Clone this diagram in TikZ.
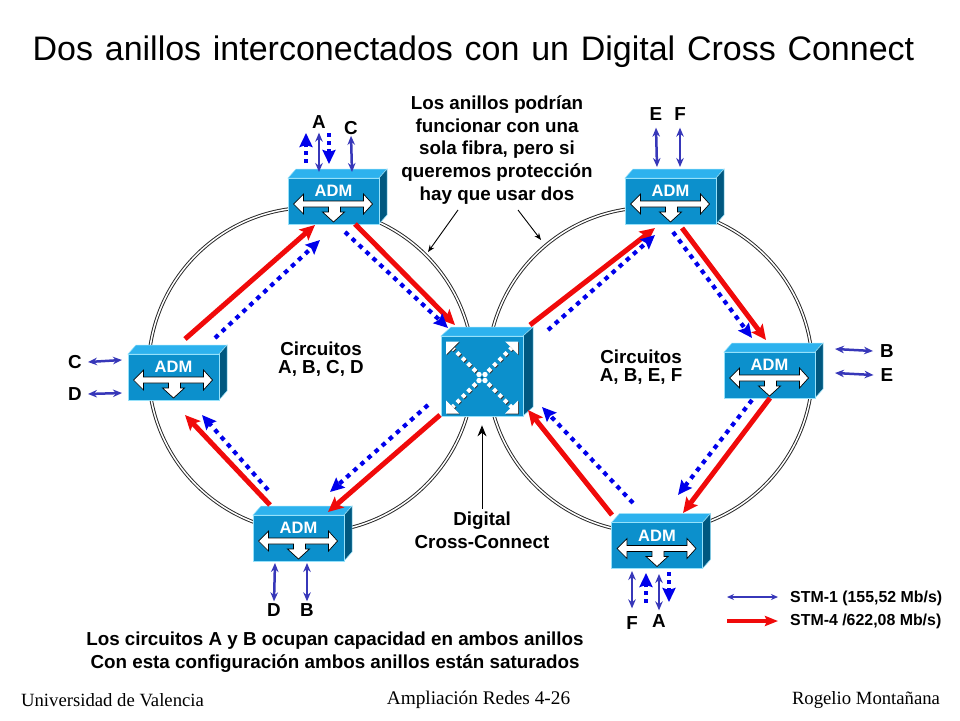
\documentclass[tikz,border=0pt]{standalone}
\usepackage{fontspec}
\setmainfont{Liberation Sans}
\newfontfamily\footfont{Liberation Serif}
\usetikzlibrary{arrows.meta,calc}
\definecolor{boxfront}{RGB}{12,144,204}
\definecolor{boxtop}{RGB}{45,178,238}
\definecolor{boxside}{RGB}{0,88,128}
\definecolor{boxedge}{RGB}{150,225,250}
\definecolor{thinblue}{RGB}{55,55,185}
\definecolor{dotblue}{RGB}{0,0,235}
\definecolor{redline}{RGB}{240,10,10}
\newcommand{\tgap}{\ \hspace{2.3pt}}
\tikzset{
  x=1pt,y=-1pt,
  front/.style={draw=boxedge,line width=.7pt,fill=boxfront,inner sep=0pt,minimum width=#1},
  front/.default=91pt,
  toplabel/.style={font=\bfseries\fontsize{18.8}{22.6}\selectfont,text=black,align=center,inner sep=0pt},
  smalllabel/.style={font=\bfseries\fontsize{15.9}{19}\selectfont,text=black,align=left,inner sep=0pt,anchor=west},
  foot/.style={font=\footfont\fontsize{18.7}{22}\selectfont,text=black,inner sep=0pt},
  redarrow/.style={draw=redline,line width=5pt,-{Stealth[length=15pt,width=14pt,inset=3pt]}},
  bluearrow/.style={draw=dotblue,line width=4.2pt,dash pattern=on 4.5pt off 5pt,-{Stealth[length=14pt,width=13pt,inset=2pt,sep=0pt]}},
  thinarrow/.style={draw=thinblue,line width=2.5pt,{Stealth[length=9pt,width=7.5pt]}-{Stealth[length=9pt,width=7.5pt]}},
  ring/.style={draw=black!85,line width=.95pt,double=white,double distance=1.5pt},
  note/.style={draw=black,line width=.9pt,-{Stealth[length=7pt,width=5.5pt]}},
  wht/.style={fill=white,draw=black,line width=.7pt,line join=miter},
}
% name, centre x, centre y of the front face
\newcommand{\admbox}[3]{%
  \fill[boxtop,draw=boxedge,line width=.5pt] (#2-45.5,#3-23)--(#2-37.5,#3-32)--(#2+53.5,#3-32)--(#2+45.5,#3-23)--cycle;
  \fill[boxside,draw=boxedge,line width=.5pt] (#2+45.5,#3-23)--(#2+53.5,#3-32)--(#2+53.5,#3+14)--(#2+45.5,#3+23)--cycle;
  \node[front,minimum height=46pt] (#1) at (#2,#3) {};
  \node[font=\bfseries\fontsize{16.5}{18}\selectfont,text=white,inner sep=0pt] (#1l) at (#2,#3-10) {ADM};
  \begin{scope}[shift={(#2,#3+3)}]
    \draw[wht] (-40,0)--(-30,-10)--(-30,-3)--(30,-3)--(30,-10)--(39,0)--(30,10)--(30,3)--(7,3)--(7,8)--(11,8)--(0,18)--(-11,8)--(-5,8)--(-5,3)--(-30,3)--(-30,10)--cycle;
  \end{scope}
}
\newcommand{\hop}[2]{% sign x, sign y
  \foreach \k in {0,1,2,3,4}{
    \fill[black!80] ($(482,377.5)+(#1*7.5+#1*\k*5.4+.8,#2*7.5+#2*\k*5.4+.8)$) +(0,-2.8)--+(2.8,0)--+(0,2.8)--+(-2.8,0)--cycle;
    \fill[white] ($(482,377.5)+(#1*7.5+#1*\k*5.4,#2*7.5+#2*\k*5.4)$) +(0,-2.8)--+(2.8,0)--+(0,2.8)--+(-2.8,0)--cycle;
  }
  \fill[black!80] (482+#1*36+.8,377.5+#2*36+.8)--(482+#1*23+.8,377.5+#2*36+.8)--(482+#1*36+.8,377.5+#2*23+.8)--cycle;
  \fill[white] (482+#1*36,377.5+#2*36)--(482+#1*23,377.5+#2*36)--(482+#1*36,377.5+#2*23)--cycle;
  \fill[white] (482+#1*3,377.5+#2*3) circle[radius=2.7];
}
\begin{document}
\begin{tikzpicture}
\useasboundingbox (0,0) rectangle (960,720);
\fill[white] (0,0) rectangle (960,720);

\node[font=\fontsize{34}{40}\selectfont,inner sep=0pt,text=black] (title) at (473.5,52) {Dos\tgap anillos\tgap interconectados\tgap con\tgap un\tgap Digital\tgap Cross\tgap Connect};

\draw[ring] (311,370) circle[radius=162.5];
\draw[ring] (650,370) circle[radius=162.5];

\admbox{admA}{333.5}{201}
\admbox{admB}{670.5}{201}
\admbox{admC}{173.5}{377}
\admbox{admD}{298.5}{538}
\admbox{admE}{769.5}{375}
\admbox{admF}{657}{545.5}

% Digital cross connect
\fill[boxtop,draw=boxedge,line width=.5pt] (441,336)--(451,327)--(533,327)--(523,336)--cycle;
\fill[boxside,draw=boxedge,line width=.5pt] (523,336)--(533,327)--(533,407)--(523,416)--cycle;
\node[front=82pt,minimum height=80pt] (dxc) at (482,376) {};
\hop{-1}{-1}\hop{1}{-1}\hop{-1}{1}\hop{1}{1}
\fill[boxside] (482,377.5) circle[radius=1.2];

% Red STM-4 connectors
\draw[redarrow] ([shift={(11.5,-38)}]admC.center) -- ([shift={(-18.5,24)}]admA.center);
\draw[redarrow] ([shift={(21.5,23)}]admA.center) -- ([shift={(-27,-51)}]dxc.center);
\draw[redarrow] ([shift={(-42,39)}]dxc.center) -- ([shift={(29.5,-26)}]admD.center);
\draw[redarrow] ([shift={(-28.5,-33)}]admD.center) -- ([shift={(11.5,38)}]admC.center);
\draw[redarrow] ([shift={(48,-51)}]dxc.center) -- ([shift={(-15.5,27)}]admB.center);
\draw[redarrow] ([shift={(11.5,27)}]admB.center) -- ([shift={(-3.5,-35)}]admE.center);
\draw[redarrow] ([shift={(0.5,23)}]admE.center) -- ([shift={(26,-32.5)}]admF.center);
\draw[redarrow] ([shift={(-45,-30.5)}]admF.center) -- ([shift={(46,34)}]dxc.center);

% Blue dotted paths
\draw[bluearrow] ([shift={(41.5,-39)}]admC.center) -- ([shift={(-13.5,39)}]admA.center);
\draw[bluearrow] ([shift={(11.5,31)}]admA.center) -- ([shift={(-34,-48)}]dxc.center);
\draw[bluearrow] ([shift={(-54,29)}]dxc.center) -- ([shift={(31.5,-46)}]admD.center);
\draw[bluearrow] ([shift={(-30.5,-48)}]admD.center) -- ([shift={(28.5,38)}]admC.center);
\draw[bluearrow] ([shift={(66,-46)}]dxc.center) -- ([shift={(-15.5,34)}]admB.center);
\draw[bluearrow] ([shift={(2.5,31)}]admB.center) -- ([shift={(-17.5,-37)}]admE.center);
\draw[bluearrow] ([shift={(-17.5,25)}]admE.center) -- ([shift={(21,-50.5)}]admF.center);
\draw[bluearrow] ([shift={(-24,-42.5)}]admF.center) -- ([shift={(60,31)}]dxc.center);

% Tributary labels
\node[toplabel] (lA1) at (319,122) {A};
\node[toplabel] (lC1) at (351,128) {C};
\node[toplabel] (lE1) at (656,114) {E};
\node[toplabel] (lF1) at (680,114) {F};
\node[toplabel] (lC2) at (75,362) {C};
\node[toplabel] (lD2) at (75,394) {D};
\node[toplabel] (lD3) at (274,610) {D};
\node[toplabel] (lB3) at (307,610) {B};
\node[toplabel] (lB4) at (887,351) {B};
\node[toplabel] (lE4) at (887,375) {E};
\node[toplabel] (lF5) at (632,623) {F};
\node[toplabel] (lA5) at (659,621) {A};

% Tributaries
\draw[thinarrow] ([yshift=-4pt]lA1.south) -- ([shift={(-14.5,-29)}]admA.center);
\draw[thinarrow] ([yshift=-1pt]lC1.south) -- ([shift={(18.5,-29)}]admA.center);
\draw[thinarrow] ([yshift=-7pt]lE1.south) -- ([shift={(-13.5,-34)}]admB.center);
\draw[thinarrow] ([yshift=-7pt]lF1.south) -- ([shift={(9.5,-34)}]admB.center);
\draw[thinarrow] ([xshift=6pt]lC2.east) -- ([shift={(-51.5,-17)}]admC.center);
\draw[thinarrow] ([xshift=6pt]lD2.east) -- ([shift={(-51.5,16)}]admC.center);
\draw[thinarrow] ([yshift=2pt]lD3.north) -- ([shift={(-23.5,25)}]admD.center);
\draw[thinarrow] ([yshift=2pt]lB3.north) -- ([shift={(8.5,25)}]admD.center);
\draw[thinarrow] ([xshift=-7pt]lB4.west) -- ([shift={(65.5,-26)}]admE.center);
\draw[thinarrow] ([xshift=-7pt]lE4.west) -- ([shift={(65.5,-2)}]admE.center);
\draw[thinarrow] ([yshift=8pt]lF5.north) -- ([shift={(-25,25.5)}]admF.center);
\draw[thinarrow] ([yshift=4pt]lA5.north) -- ([shift={(2,28.5)}]admF.center);
\draw[bluearrow,line width=3.5pt,dash pattern=on 4pt off 4pt] ([shift={(-27.5,-38)}]admA.center) -- ([shift={(-27.5,-68)}]admA.center);
\draw[bluearrow,line width=3.5pt,dash pattern=on 4pt off 4pt] ([shift={(-4.5,-68)}]admA.center) -- ([shift={(-4.5,-37)}]admA.center);
\draw[bluearrow,line width=3.5pt,dash pattern=on 4pt off 4pt] ([shift={(-11,57.5)}]admF.center) -- ([shift={(-11,27.5)}]admF.center);
\draw[bluearrow,line width=3.5pt,dash pattern=on 4pt off 4pt] ([shift={(12,26.5)}]admF.center) -- ([shift={(12,56.5)}]admF.center);

% Notes
\node[toplabel] (noteTop) at (497,150) {Los anillos podrían\\funcionar con una\\sola fibra, pero si\\queremos protección\\hay que usar dos};
\coordinate (ringL) at (428,252);
\coordinate (ringR) at (541,240);
\draw[note] (458,210) -- (ringL);
\draw[note] (518,210) -- (ringR);
\node[toplabel] (cLeft) at (321,359) {Circuitos\\[-4.6pt]A, B, C, D};
\node[toplabel] (cRight) at (641,367) {Circuitos\\[-4.6pt]A, B, E, F};
\node[toplabel] (dLabel) at (482,530) {Digital\\Cross-Connect};
\draw[draw=black,line width=.9pt,-{Stealth[length=11pt,width=9pt]}] ([yshift=3pt]dLabel.north) -- ([yshift=-9pt]dxc.south);
\node[toplabel] (bottomNote) at (335,652) {Los circuitos A y B ocupan capacidad en ambos anillos\\Con esta configuración ambos anillos están saturados};

% Legend
\node[smalllabel] (leg1) at (790,598) {STM-1 (155,52 Mb/s)};
\node[smalllabel] (leg2) at (790,621) {STM-4 /622,08 Mb/s)};
\coordinate (leg1s) at (727,597);
\coordinate (leg2s) at (727,621);
\draw[thinarrow,{Stealth[length=7pt,width=6pt]}-{Stealth[length=7pt,width=6pt]}] (leg1s) -- ([xshift=-12pt,yshift=1pt]leg1.west);
\draw[draw=redline,line width=4.5pt,-{Stealth[length=13pt,width=10pt,inset=2pt]}] (leg2s) -- ([xshift=-12pt]leg2.west);

% Footer
\node[foot] (f1) at (112.5,700) {Universidad de Valencia};
\node[foot,font=\footfont\fontsize{19.3}{22}\selectfont] (f2) at (478.5,700) {Ampliación Redes 4-26};
\node[foot] (f3) at (866,700) {Rogelio Montañana};
\end{tikzpicture}
\end{document}
